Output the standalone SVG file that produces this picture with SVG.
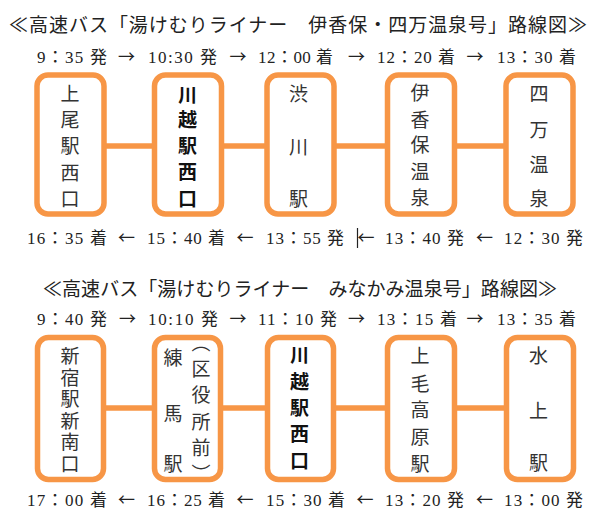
<svg xmlns="http://www.w3.org/2000/svg" width="602" height="523" viewBox="0 0 602 523">
<style>
.box{fill:#fff;stroke:#F79646;stroke-width:5.5}
.conn{stroke:#F79646;stroke-width:5.5;fill:none}
.bt{font-family:"Noto Sans CJK JP",sans-serif;font-size:19px;fill:#333;text-anchor:middle}
.vt{font-family:"Noto Sans CJK JP",sans-serif;font-size:19px;fill:#333;writing-mode:vertical-rl}
.bb{font-weight:bold;fill:#111}
.title{font-family:"Noto Sans CJK JP",sans-serif;font-size:19px;fill:#222}
.tm{font-family:"Liberation Serif","Noto Sans CJK JP",serif;font-size:17px;fill:#222}
.ar{font-family:"Noto Sans CJK JP",sans-serif;font-size:17px;fill:#222;text-anchor:middle}
</style>
<rect width="602" height="523" fill="#fff"/>

<!-- Route 1 -->
<text class="title" x="9" y="31.5" textLength="578" lengthAdjust="spacing">≪高速バス「湯けむりライナー　伊香保・四万温泉号」路線図≫</text>
<g id="times-1-out">
<text class="tm" x="37" y="63" textLength="70" lengthAdjust="spacing">9：35 発</text>
<text class="ar" x="126.5" y="63">→</text>
<text class="tm" x="148" y="63" textLength="69" lengthAdjust="spacing">10:30 発</text>
<text class="ar" x="238" y="63">→</text>
<text class="tm" x="258" y="63" textLength="75" lengthAdjust="spacing">12：00 着</text>
<text class="ar" x="356.5" y="63">→</text>
<text class="tm" x="377" y="63" textLength="78" lengthAdjust="spacing">12：20 着</text>
<text class="ar" x="475" y="63">→</text>
<text class="tm" x="497" y="63" textLength="79" lengthAdjust="spacing">13：30 着</text>
</g>
<g id="connectors-1">
<line class="conn" x1="103" y1="146" x2="155" y2="146"/>
<line class="conn" x1="221" y1="146" x2="268" y2="146"/>
<line class="conn" x1="333" y1="146" x2="388" y2="146"/>
<line class="conn" x1="454" y1="146" x2="507" y2="146"/>
</g>
<g id="node-ageo">
<rect class="box" x="37" y="75" width="67" height="139" rx="11"/>
<text class="bt"><tspan x="70" y="100.7">上</tspan><tspan x="70" y="127.2">尾</tspan><tspan x="70" y="153.2">駅</tspan><tspan x="70" y="179.7">西</tspan><tspan x="70" y="205.7">口</tspan></text>
</g>
<g id="node-kawagoe-1">
<rect class="box" x="154.5" y="75" width="67" height="139" rx="11"/>
<text class="bt bb"><tspan x="187.5" y="101.5">川</tspan><tspan x="187.5" y="127">越</tspan><tspan x="187.5" y="153.2">駅</tspan><tspan x="187.5" y="179">西</tspan><tspan x="187.5" y="205.7">口</tspan></text>
</g>
<g id="node-shibukawa">
<rect class="box" x="267" y="75" width="67" height="139" rx="11"/>
<text class="bt"><tspan x="298.5" y="101.2">渋</tspan><tspan x="298.5" y="153.7">川</tspan><tspan x="298.5" y="206">駅</tspan></text>
</g>
<g id="node-ikaho">
<rect class="box" x="387.5" y="75" width="67" height="139" rx="11"/>
<text class="bt"><tspan x="420" y="100">伊</tspan><tspan x="420" y="126.5">香</tspan><tspan x="420" y="152">保</tspan><tspan x="420" y="179">温</tspan><tspan x="420" y="205">泉</tspan></text>
</g>
<g id="node-shima">
<rect class="box" x="506" y="75" width="67" height="139" rx="11"/>
<text class="bt"><tspan x="539" y="100.7">四</tspan><tspan x="539" y="137.2">万</tspan><tspan x="539" y="172.2">温</tspan><tspan x="539" y="205.7">泉</tspan></text>
</g>
<g id="times-1-back">
<text class="tm" x="27" y="244" textLength="80" lengthAdjust="spacing">16：35 着</text>
<text class="ar" x="126.5" y="244">←</text>
<text class="tm" x="147" y="244" textLength="78" lengthAdjust="spacing">15：40 着</text>
<text class="ar" x="245" y="244">←</text>
<text class="tm" x="266" y="244" textLength="78" lengthAdjust="spacing">13：55 発</text>
<line x1="357.5" y1="228" x2="357.5" y2="248" stroke="#222" stroke-width="1.2"/>
<text class="ar" x="366" y="244">←</text>
<text class="tm" x="385" y="244" textLength="79" lengthAdjust="spacing">13：40 発</text>
<text class="ar" x="484.5" y="244">←</text>
<text class="tm" x="504" y="244" textLength="79" lengthAdjust="spacing">12：30 発</text>
</g>

<!-- Route 2 -->
<text class="title" x="43" y="295.5" textLength="514" lengthAdjust="spacing">≪高速バス「湯けむりライナー　みなかみ温泉号」路線図≫</text>
<g id="times-2-out">
<text class="tm" x="37" y="325" textLength="70" lengthAdjust="spacing">9：40 発</text>
<text class="ar" x="127.5" y="325">→</text>
<text class="tm" x="148" y="325" textLength="70" lengthAdjust="spacing">10:10 発</text>
<text class="ar" x="238" y="325">→</text>
<text class="tm" x="258" y="325" textLength="79" lengthAdjust="spacing">11：10 発</text>
<text class="ar" x="356.5" y="325">→</text>
<text class="tm" x="377" y="325" textLength="80" lengthAdjust="spacing">13：15 着</text>
<text class="ar" x="475" y="325">→</text>
<text class="tm" x="497" y="325" textLength="79" lengthAdjust="spacing">13：35 着</text>
</g>
<g id="connectors-2">
<line class="conn" x1="103" y1="408" x2="155" y2="408"/>
<line class="conn" x1="220" y1="408" x2="268" y2="408"/>
<line class="conn" x1="333" y1="408" x2="388" y2="408"/>
<line class="conn" x1="454" y1="408" x2="507" y2="408"/>
</g>
<g id="node-shinjuku">
<rect class="box" x="37.5" y="337.5" width="66" height="142" rx="11"/>
<text class="vt" x="70" y="346.5" style="letter-spacing:2.5px">新宿駅新南口</text>
</g>
<g id="node-nerima">
<rect class="box" x="154.5" y="337.5" width="66" height="142" rx="11"/>
<text class="bt"><tspan x="173" y="364.7">練</tspan><tspan x="173" y="420.7">馬</tspan><tspan x="173" y="471.2">駅</tspan></text>
<text class="vt" x="201" y="333" style="letter-spacing:7.3px">（区役所前）</text>
</g>
<g id="node-kawagoe-2">
<rect class="box" x="267.5" y="337.5" width="66" height="142" rx="11"/>
<text class="bt bb"><tspan x="299.5" y="362.2">川</tspan><tspan x="299.5" y="388.6">越</tspan><tspan x="299.5" y="415">駅</tspan><tspan x="299.5" y="441.4">西</tspan><tspan x="299.5" y="467.8">口</tspan></text>
</g>
<g id="node-jomokogen">
<rect class="box" x="387.5" y="337.5" width="67" height="142" rx="11"/>
<text class="bt"><tspan x="420" y="362.7">上</tspan><tspan x="420" y="390.7">毛</tspan><tspan x="420" y="417">高</tspan><tspan x="420" y="443.7">原</tspan><tspan x="420" y="470.7">駅</tspan></text>
</g>
<g id="node-minakami">
<rect class="box" x="506.5" y="337.5" width="67" height="142" rx="11"/>
<text class="bt"><tspan x="538.5" y="362.7">水</tspan><tspan x="538.5" y="418.2">上</tspan><tspan x="538.5" y="470.2">駅</tspan></text>
</g>
<g id="times-2-back">
<text class="tm" x="27" y="506" textLength="80" lengthAdjust="spacing">17：00 着</text>
<text class="ar" x="126.5" y="506">←</text>
<text class="tm" x="147" y="506" textLength="78" lengthAdjust="spacing">16：25 着</text>
<text class="ar" x="245" y="506">←</text>
<text class="tm" x="266" y="506" textLength="79" lengthAdjust="spacing">15：30 着</text>
<text class="ar" x="365" y="506">←</text>
<text class="tm" x="385" y="506" textLength="79" lengthAdjust="spacing">13：20 発</text>
<text class="ar" x="484.5" y="506">←</text>
<text class="tm" x="504" y="506" textLength="79" lengthAdjust="spacing">13：00 発</text>
</g>
</svg>
